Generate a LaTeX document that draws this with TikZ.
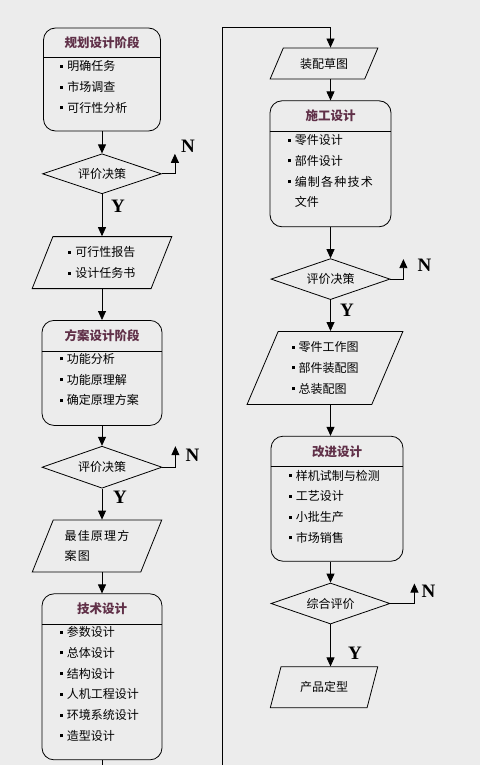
\documentclass[tikz,border=0pt]{standalone}
\usepackage{fontspec}
\setmainfont{Noto Sans CJK SC}
\newfontfamily\ynfont{Liberation Serif}
\newfontfamily\widefont{Noto Sans CJK SC}[LetterSpace=10]
\usetikzlibrary{shapes.geometric, arrows.meta, positioning, calc}

\definecolor{bg}{RGB}{236,236,236}
\definecolor{headcol}{RGB}{96,48,72}

\newcommand{\itm}{\rule[0.25em]{3pt}{3pt}\hspace{4pt}}
\newcommand{\cont}{\hphantom{\itm}}

\begin{document}
\begin{tikzpicture}[
    x=1pt, y=1pt,
    >={Triangle[width=8pt,length=9pt]},
    stage/.style={draw, rounded corners=12pt, fill=bg, line width=0.8pt},
    head/.style={font=\fontsize{12.5}{14}\selectfont\bfseries, text=headcol, inner sep=0pt},
    items/.style={font=\fontsize{12}{20.7}\selectfont, align=left, inner sep=0pt, anchor=north west},
    choice/.style={diamond, aspect=3, draw, fill=bg, line width=0.8pt, inner sep=0pt, font=\fontsize{12}{14}\selectfont},
    doc/.style={trapezium, trapezium stretches=true, draw, fill=bg, line width=0.8pt, align=left, inner sep=0pt, font=\fontsize{12}{20.7}\selectfont},
    yn/.style={font=\ynfont\fontsize{19}{19}\selectfont\bfseries, inner sep=0pt},
    arrow/.style={->, line width=0.8pt},
  ]

  \path[use as bounding box, fill=bg] (0,0) rectangle (480,-765);

  % --- Left column ---
  \node[stage, minimum width=117pt, minimum height=103pt] (plan) at (102,-79.5) {};
  \node[head] (planhead) at ([yshift=-15.5pt]plan.north) {规划设计阶段};
  \draw[line width=0.8pt] ([yshift=-30pt]plan.north west) -- ([yshift=-30pt]plan.north east);
  \node[items] (planlist) at ([xshift=17pt,yshift=-33pt]plan.north west) {\itm 明确任务\\\itm 市场调查\\\itm 可行性分析};

  \node[choice, minimum width=119pt, minimum height=40pt, below=22pt of plan] (eval1) {评价决策};

  \node[doc, trapezium left angle=66, trapezium right angle=114, minimum width=141pt, minimum height=52pt, below=42pt of eval1] (report) {\itm 可行性报告\\\itm 设计任务书};

  \node[stage, minimum width=120pt, minimum height=105pt, below=31pt of report] (scheme) {};
  \node[head] (schemehead) at ([yshift=-15.5pt]scheme.north) {方案设计阶段};
  \draw[line width=0.8pt] ([yshift=-31pt]scheme.north west) -- ([yshift=-31pt]scheme.north east);
  \node[items] (schemelist) at ([xshift=18pt,yshift=-33pt]scheme.north west) {\itm 功能分析\\\itm 功能原理解\\\itm 确定原理方案};

  \node[choice, minimum width=120pt, minimum height=42pt, below=20pt of scheme] (eval2) {评价决策};

  \node[doc, trapezium left angle=64, trapezium right angle=116, minimum width=130pt, minimum height=52pt, below=31pt of eval2, xshift=-5pt, font=\widefont\fontsize{12}{20.7}\selectfont] (idea) {最佳原理方\\案图};

  \node[stage, minimum width=120pt, minimum height=166pt, below=21pt of idea, xshift=5pt] (tech) {};
  \node[head] (techhead) at ([yshift=-15.5pt]tech.north) {技术设计};
  \draw[line width=0.8pt] ([yshift=-31pt]tech.north west) -- ([yshift=-31pt]tech.north east);
  \node[items] (techlist) at ([xshift=18pt,yshift=-33pt]tech.north west) {\itm 参数设计\\\itm 总体设计\\\itm 结构设计\\\itm 人机工程设计\\\itm 环境系统设计\\\itm 造型设计};

  % --- Right column ---
  \node[doc, trapezium left angle=55, trapezium right angle=125, minimum width=108pt, minimum height=31pt] (sketch) at (324,-63.5) {装配草图};

  \node[stage, minimum width=121pt, minimum height=126pt, below=21pt of sketch, xshift=6.5pt] (cons) {};
  \node[head] (conshead) at ([yshift=-15.5pt]cons.north) {施工设计};
  \draw[line width=0.8pt] ([yshift=-31pt]cons.north west) -- ([yshift=-31pt]cons.north east);
  \node[items] (conslist) at ([xshift=18pt,yshift=-34pt]cons.north west) {\itm 零件设计\\\itm 部件设计\\\itm {\widefont 编制各种技术}\\\cont 文件};

  \node[choice, minimum width=119pt, minimum height=41pt, below=31pt of cons] (eval3) {评价决策};

  \node[doc, trapezium left angle=67, trapezium right angle=113, minimum width=156pt, minimum height=73pt, below=31pt of eval3, xshift=-5.5pt] (parts) {\itm 零件工作图\\\itm 部件装配图\\\itm 总装配图};

  \node[stage, minimum width=132pt, minimum height=125pt, below=31pt of parts, xshift=12pt] (improve) {};
  \node[head] (improvehead) at ([yshift=-15.5pt]improve.north) {改进设计};
  \draw[line width=0.8pt] ([yshift=-31pt]improve.north west) -- ([yshift=-31pt]improve.north east);
  \node[items] (improvelist) at ([xshift=18pt,yshift=-34pt]improve.north west) {\itm 样机试制与检测\\\itm 工艺设计\\\itm 小批生产\\\itm 市场销售};

  \node[choice, minimum width=119pt, minimum height=41pt, below=21pt of improve, xshift=-6.5pt] (eval4) {综合评价};

  \node[doc, trapezium left angle=62, trapezium right angle=118, minimum width=108pt, minimum height=41pt, below=42pt of eval4, xshift=-6.5pt] (final) {产品定型};

  % --- Arrows: left column ---
  \draw[arrow] (plan.south) -- (eval1.north);
  \draw[arrow] (eval1.south) -- (eval1.south |- report.north);
  \draw[arrow] (report.south -| scheme.north) -- (scheme.north);
  \draw[arrow] (scheme.south) -- (eval2.north);
  \draw[arrow] (eval2.south) -- (eval2.south |- idea.north);
  \draw[arrow] (idea.south -| tech.north) -- (tech.north);

  % --- Arrow: over to the right column ---
  \coordinate (loopbot) at (222,-790);
  \coordinate (looptop) at (222,-27);
  \draw[arrow] (tech.south) |- (loopbot) -- (looptop) -| (cons.north |- sketch.north);

  % --- Arrows: right column ---
  \draw[arrow] (sketch.south -| cons.north) -- (cons.north);
  \draw[arrow] (cons.south) -- (eval3.north);
  \draw[arrow] (eval3.south) -- (eval3.south |- parts.north);
  \draw[arrow] (parts.south -| eval3.south) -- (eval3.south |- improve.north);
  \draw[arrow] (improve.south -| eval4.north) -- (eval4.north);
  \draw[arrow] (eval4.south) -- (eval4.south |- final.north);

  % --- Arrows: N branches ---
  \draw[arrow] (eval1.east) -| ++(13pt,20pt);
  \draw[arrow] (eval2.east) -| ++(13pt,21pt);
  \draw[arrow] (eval3.east) -| ++(13pt,20pt);
  \draw[arrow] (eval4.east) -| ++(24pt,20pt);

  % --- Y / N labels ---
  \node[yn] (n1) at ([xshift=26pt,yshift=28pt]eval1.east) {N};
  \node[yn] (y1) at ([xshift=16pt,yshift=-12pt]eval1.south) {Y};
  \node[yn] (n2) at ([xshift=30pt,yshift=12pt]eval2.east) {N};
  \node[yn] (y2) at ([xshift=18pt,yshift=-9pt]eval2.south) {Y};
  \node[yn] (n3) at ([xshift=34pt,yshift=14pt]eval3.east) {N};
  \node[yn] (y3) at ([xshift=16.5pt,yshift=-10pt]eval3.south) {Y};
  \node[yn] (n4) at ([xshift=38pt,yshift=12pt]eval4.east) {N};
  \node[yn] (y4) at ([xshift=24.5pt,yshift=-29pt]eval4.south) {Y};

\end{tikzpicture}
\end{document}
